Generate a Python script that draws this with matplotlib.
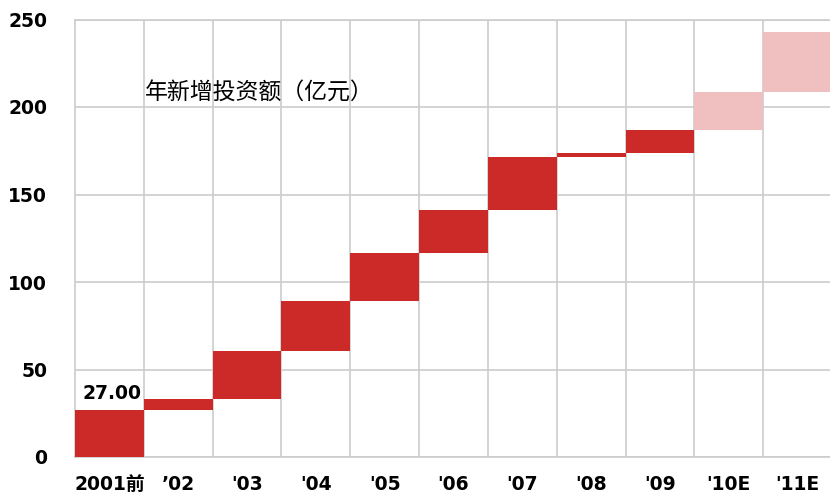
import matplotlib.pyplot as plt
import numpy as np

plt.rcParams['font.family'] = ['DejaVu Sans', 'Noto Sans CJK SC']

# 年新增投资额（亿元）瀑布图数据
categories = ['2001前', '’02', "'03", "'04", "'05", "'06", "'07", "'08", "'09", "'10E", "'11E"]
increments = [27.0, 6.0, 27.5, 28.5, 27.5, 24.5, 30.5, 2.5, 13.0, 21.5, 34.5]
estimated = [False] * 9 + [True, True]

tops = np.cumsum(increments)
bottoms = tops - np.array(increments)
colors = ['#F0C0C0' if e else '#CC2929' for e in estimated]

fig = plt.figure(figsize=(8.3, 4.97), dpi=100)
ax = fig.add_axes([75 / 830, 40 / 497, 757 / 830, 437.5 / 497])

x = np.arange(len(categories))
ax.bar(x, increments, bottom=bottoms, width=1.0, color=colors, zorder=3)

ax.set_xlim(-0.5, len(categories) - 0.5)
ax.set_ylim(0, 250)
ax.set_yticks(range(0, 251, 50))
ax.set_xticks(x)
ax.set_xticklabels(categories)
ax.set_xticks(x[:-1] + 0.5, minor=True)

ax.grid(True, axis='y', color='#cccccc', linewidth=1.2, zorder=0)
ax.grid(True, axis='x', which='minor', color='#cccccc', linewidth=1.2, zorder=0)
ax.tick_params(axis='both', which='both', length=0)
ax.tick_params(axis='y', pad=20, labelsize=13.5)
ax.tick_params(axis='x', pad=13, labelsize=13.5)
for lbl in ax.get_xticklabels() + ax.get_yticklabels():
    lbl.set_fontweight('bold')

for side in ['left', 'bottom', 'top']:
    ax.spines[side].set_color('#cccccc')
    ax.spines[side].set_linewidth(1.2)
ax.spines['right'].set_visible(False)

ax.text(0.04, 36.5, f'{increments[0]:.2f}', ha='center', va='center',
        fontsize=13.5, fontweight='bold', zorder=4)
ax.text(0.52, 208, '年新增投资额（亿元）', ha='left', va='center', fontsize=16.5,
        family=['Noto Sans CJK SC'], zorder=4)

fig.savefig('out.png', dpi=100)
